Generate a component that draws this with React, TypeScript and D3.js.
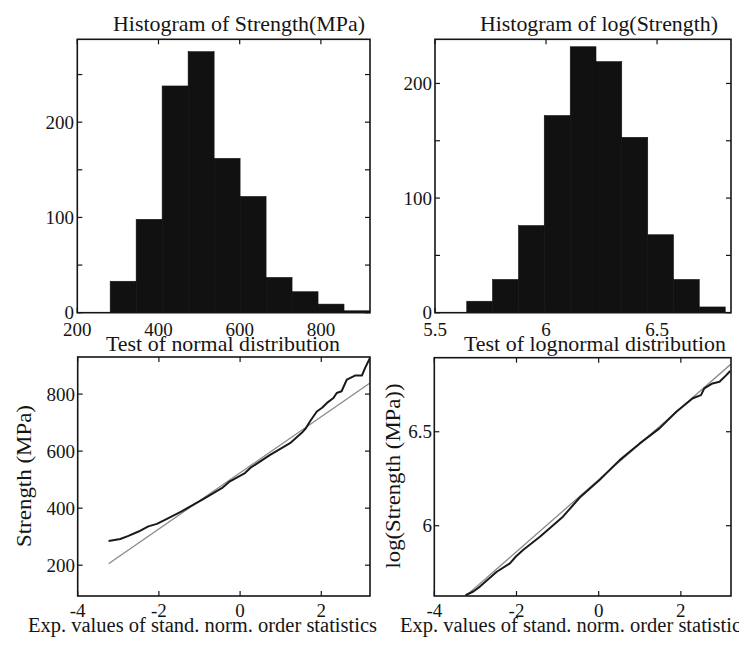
import React from 'react';
import * as d3 from 'd3';

// ---- Data ----
const strengthBinEdges = [281, 345, 409, 473, 537, 601, 665, 729, 793, 857, 921];
const strengthCounts = [33, 98, 238, 274, 162, 122, 37, 22, 9, 2];

const logBinEdges = [5.643, 5.759, 5.876, 5.992, 6.109, 6.225, 6.341, 6.458, 6.574, 6.69, 6.807];
const logCounts = [10, 29, 76, 172, 232, 219, 153, 68, 29, 5];

const normQ = [-3.24, -2.95, -2.75, -2.5, -2.26, -2.05, -1.85, -1.44, -0.94, -0.45, -0.25, 0.12, 0.25, 0.74, 1.23, 1.52, 1.62, 1.72, 1.89, 2.02, 2.14, 2.3, 2.38, 2.5, 2.63, 2.83, 3.0, 3.08, 3.2];
const normStrength = [285, 292, 303, 318, 336, 345, 359, 389, 429, 470, 494, 523, 541, 587, 628, 664, 680, 704, 739, 752, 769, 786, 804, 810, 851, 865, 865, 892, 927];
const normFitX = [-3.24, 3.2];
const normFitY = [205, 839];

const lnQ = [-3.24, -3.05, -2.89, -2.48, -2.16, -2.02, -1.84, -1.43, -0.87, -0.46, 0.02, 0.51, 1.0, 1.48, 1.89, 2.29, 2.49, 2.57, 2.77, 2.94, 3.1, 3.2];
const lnStrength = [5.63, 5.65, 5.676, 5.755, 5.8, 5.835, 5.871, 5.941, 6.048, 6.15, 6.243, 6.349, 6.438, 6.518, 6.606, 6.678, 6.695, 6.731, 6.757, 6.766, 6.8, 6.823];
const lnFitX = [-3.24, 3.22];
const lnFitY = [5.625, 6.86];

const histXTicks1 = [200, 400, 600, 800];
const histXTickLabels1 = ['200', '400', '600', '800'];
const histXTicks2 = [5.5, 6, 6.5];
const histXTickLabels2 = ['5.5', '6', '6.5'];
const histYTicks1 = [0, 50, 100, 150, 200, 250];
const histYTicks2 = [0, 50, 100, 150, 200];
const histYLabeled = [0, 100, 200];
const qqXTicks = [-4, -2, 0, 2];
const qqXTickLabels = ['-4', '-2', '0', '2'];
const normYTicks = [200, 400, 600, 800];
const lnYTicks = [6, 6.5];
const lnYTickLabels = ['6', '6.5'];

const FONT = '"Liberation Serif", "Times New Roman", Times, serif';
const INK = '#151515';

type PanelProps = {
  id: string;
  x0: number; x1: number; y0: number; y1: number;
  xDom: [number, number]; yDom: [number, number];
  xTicks: number[]; xTickLabels: string[]; xLabelBaseline: number;
  yTicks: number[]; yLabeled: number[]; yLabelFmt: (v: number) => string; yLabelX: number;
  children: (xs: d3.ScaleLinear<number, number>, ys: d3.ScaleLinear<number, number>) => React.ReactNode;
};

function Panel(p: PanelProps) {
  const xs = d3.scaleLinear().domain(p.xDom).range([p.x0, p.x1]);
  const ys = d3.scaleLinear().domain(p.yDom).range([p.y1, p.y0]);
  const tl = 5;
  return (
    <g>
      <defs>
        <clipPath id={p.id}>
          <rect x={p.x0} y={p.y0} width={p.x1 - p.x0} height={p.y1 - p.y0} />
        </clipPath>
      </defs>
      <g clipPath={`url(#${p.id})`}>{p.children(xs, ys)}</g>
      <rect x={p.x0} y={p.y0} width={p.x1 - p.x0} height={p.y1 - p.y0} fill="none" stroke={INK} strokeWidth={1.6} />
      {p.xTicks.map((t, i) => (
        <g key={'xt' + i}>
          <line x1={xs(t)} x2={xs(t)} y1={p.y1} y2={p.y1 - tl} stroke={INK} strokeWidth={1.2} />
          <line x1={xs(t)} x2={xs(t)} y1={p.y0} y2={p.y0 + tl} stroke={INK} strokeWidth={1.2} />
          <text x={xs(t)} y={p.xLabelBaseline} textAnchor="middle" fontFamily={FONT} fontSize={19} fill={INK}>
            {p.xTickLabels[i]}
          </text>
        </g>
      ))}
      {p.yTicks.map((t, i) => (
        <g key={'yt' + i}>
          <line x1={p.x0} x2={p.x0 + tl} y1={ys(t)} y2={ys(t)} stroke={INK} strokeWidth={1.2} />
          <line x1={p.x1} x2={p.x1 - tl} y1={ys(t)} y2={ys(t)} stroke={INK} strokeWidth={1.2} />
          {p.yLabeled.includes(t) && (
            <text x={p.yLabelX} y={ys(t)} dy="0.35em" textAnchor="end" fontFamily={FONT} fontSize={19} fill={INK}>
              {p.yLabelFmt(t)}
            </text>
          )}
        </g>
      ))}
    </g>
  );
}

function Label(props: { x: number; y: number; len: number; size: number; rotate?: boolean; anchor?: string; children: string }) {
  const { x, y, len, size, rotate, anchor } = props;
  return (
    <text
      x={0}
      y={0}
      transform={`translate(${x},${y})${rotate ? ' rotate(-90)' : ''}`}
      textAnchor={anchor || 'middle'}
      fontFamily={FONT}
      fontSize={size}
      fill={INK}
      textLength={len}
      lengthAdjust="spacingAndGlyphs"
    >
      {props.children}
    </text>
  );
}

export default function App() {
  const line = (xs: d3.ScaleLinear<number, number>, ys: d3.ScaleLinear<number, number>, X: number[], Y: number[]) =>
    d3.line<number>().x((_, i) => xs(X[i])).y((_, i) => ys(Y[i])).curve(d3.curveLinear)(X) || '';

  return (
    <svg width={739} height={652} style={{ position: 'absolute', left: 0, top: 0, background: '#fff' }}>
      <rect x={0} y={0} width={739} height={652} fill="#fff" />

      {/* Panel 1: histogram of strength */}
      <Panel
        id="c1" x0={77.3} x1={370} y0={39.3} y1={312.7}
        xDom={[200, 921]} yDom={[0, 287]}
        xTicks={histXTicks1} xTickLabels={histXTickLabels1} xLabelBaseline={335.5}
        yTicks={histYTicks1} yLabeled={histYLabeled} yLabelFmt={(v) => String(v)} yLabelX={74}
      >
        {(xs, ys) =>
          strengthCounts.map((c, i) => (
            <rect key={i} x={xs(strengthBinEdges[i])} y={ys(c)}
              width={xs(strengthBinEdges[i + 1]) - xs(strengthBinEdges[i])} height={ys(0) - ys(c)}
              fill="#111" stroke="#111" strokeWidth={0.6} />
          ))
        }
      </Panel>

      {/* Panel 2: histogram of log strength */}
      <Panel
        id="c2" x0={435} x1={731} y0={39.3} y1={312.7}
        xDom={[5.5, 6.833]} yDom={[0, 238.5]}
        xTicks={histXTicks2} xTickLabels={histXTickLabels2} xLabelBaseline={335.5}
        yTicks={histYTicks2} yLabeled={histYLabeled} yLabelFmt={(v) => String(v)} yLabelX={432}
      >
        {(xs, ys) =>
          logCounts.map((c, i) => (
            <rect key={i} x={xs(logBinEdges[i])} y={ys(c)}
              width={xs(logBinEdges[i + 1]) - xs(logBinEdges[i])} height={ys(0) - ys(c)}
              fill="#111" stroke="#111" strokeWidth={0.6} />
          ))
        }
      </Panel>

      {/* Panel 3: normal QQ */}
      <Panel
        id="c3" x0={77.7} x1={370} y0={357} y1={596}
        xDom={[-4, 3.2]} yDom={[92, 930]}
        xTicks={qqXTicks} xTickLabels={qqXTickLabels} xLabelBaseline={617}
        yTicks={normYTicks} yLabeled={normYTicks} yLabelFmt={(v) => String(v)} yLabelX={75}
      >
        {(xs, ys) => (
          <g>
            <path d={line(xs, ys, normFitX, normFitY)} fill="none" stroke="#8a8a8a" strokeWidth={1.3} />
            <path d={line(xs, ys, normQ, normStrength)} fill="none" stroke="#1a1a1a" strokeWidth={2} strokeLinejoin="round" />
          </g>
        )}
      </Panel>

      {/* Panel 4: lognormal QQ */}
      <Panel
        id="c4" x0={434.3} x1={731} y0={357.7} y1={596}
        xDom={[-4, 3.22]} yDom={[5.626, 6.894]}
        xTicks={qqXTicks} xTickLabels={qqXTickLabels} xLabelBaseline={617}
        yTicks={lnYTicks} yLabeled={lnYTicks} yLabelFmt={(v) => lnYTickLabels[lnYTicks.indexOf(v)]} yLabelX={432}
      >
        {(xs, ys) => (
          <g>
            <path d={line(xs, ys, lnFitX, lnFitY)} fill="none" stroke="#8a8a8a" strokeWidth={1.3} />
            <path d={line(xs, ys, lnQ, lnStrength)} fill="none" stroke="#1a1a1a" strokeWidth={2} strokeLinejoin="round" />
          </g>
        )}
      </Panel>

      {/* Titles */}
      <Label x={239} y={31} len={252} size={22}>Histogram of Strength(MPa)</Label>
      <Label x={599} y={31} len={238} size={22}>Histogram of log(Strength)</Label>
      <Label x={223} y={351} len={234} size={21}>Test of normal distribution</Label>
      <Label x={595} y={351} len={262} size={21}>Test of lognormal distribution</Label>

      {/* Axis labels */}
      <Label x={28} y={632} len={349} size={20} anchor="start">Exp. values of stand. norm. order statistics</Label>
      <Label x={400} y={632} len={349} size={20} anchor="start">Exp. values of stand. norm. order statistics</Label>
      <Label x={31} y={476} len={142} size={22} rotate>Strength (MPa)</Label>
      <Label x={400} y={476} len={185} size={22} rotate>log(Strength (MPa))</Label>
    </svg>
  );
}
